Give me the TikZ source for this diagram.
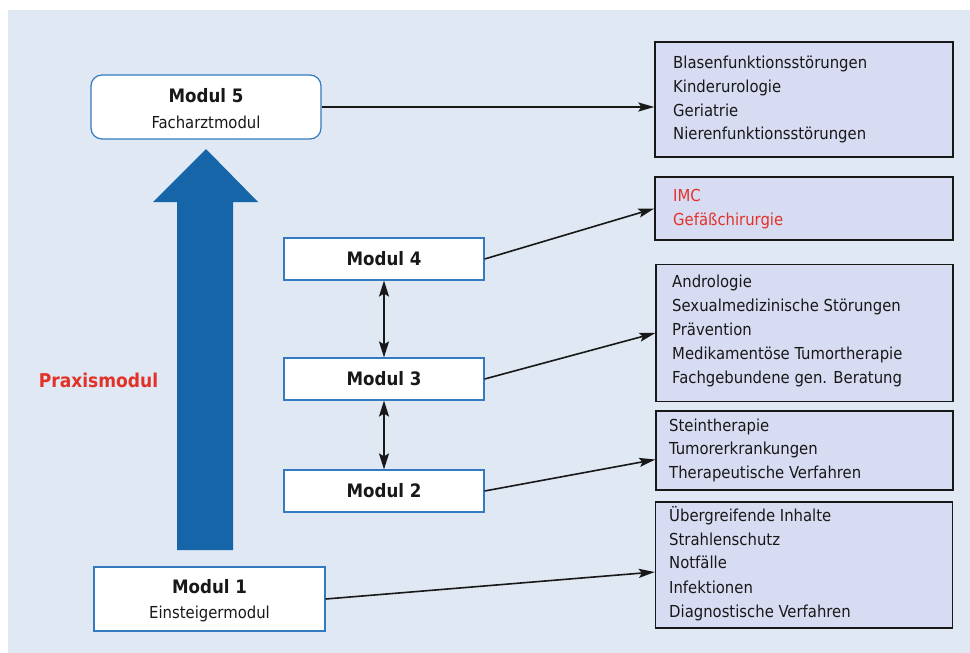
\documentclass[tikz,border=0pt]{standalone}
\usepackage{fontspec}
\setmainfont{DejaVu Sans Condensed}
\usetikzlibrary{arrows.meta,calc}

\definecolor{bgblue}{RGB}{223,232,243}
\definecolor{listfill}{RGB}{216,220,242}
\definecolor{modborder}{RGB}{52,122,192}
\definecolor{bigblue}{RGB}{21,101,168}
\definecolor{alertred}{RGB}{226,50,40}
\definecolor{ink}{RGB}{24,24,24}

\tikzset{
  modbox/.style={draw=modborder, line width=1.2pt, fill=white, inner sep=0pt},
  modtitle/.style={font=\fontsize{18.5}{22}\selectfont\bfseries, text=ink, anchor=base, inner sep=0pt},
  modsub/.style={font=\fontsize{16.5}{20}\selectfont, text=ink, anchor=base, inner sep=0pt},
  listbox/.style={draw=ink, line width=1.4pt, fill=listfill, inner sep=0pt},
  listline/.style={font=\fontsize{16.5}{20}\selectfont, text=ink, anchor=base west, inner sep=0pt},
  link/.style={draw=ink, line width=1.6pt, -{Stealth[length=16pt,width=9pt,inset=3pt]}},
  twoway/.style={draw=ink, line width=1.6pt, {Stealth[length=16pt,width=10pt,inset=3pt]}-{Stealth[length=16pt,width=10pt,inset=3pt]}}
}

\begin{document}
\begin{tikzpicture}[x=1pt, y=-1pt]
  \useasboundingbox (0,0) rectangle (970,653);
  \fill[bgblue] (8,10) rectangle (970,653);

  % upward arrow of the practice module
  \fill[bigblue] (177,550) -- (233,550) -- (233,202) -- (258,202) -- (206,149)
    -- (153,202) -- (177,202) -- cycle;
  \node[font=\fontsize{19}{22}\selectfont\bfseries, text=alertred, anchor=base, inner sep=0pt]
    (praxis) at (98.5,387) {Praxismodul};

  % modules
  \node[modbox, rounded corners=11pt, minimum width=230pt, minimum height=64pt] (m5) at (206,107) {};
  \node[modtitle] (m5t) at (206,102) {Modul 5};
  \node[modsub] (m5s) at (206,128) {Facharztmodul};

  \node[modbox, minimum width=200pt, minimum height=42pt,
        font=\fontsize{18.5}{22}\selectfont\bfseries, text=ink] (m4) at (384,259) {Modul 4};
  \node[modbox, minimum width=200pt, minimum height=42pt,
        font=\fontsize{18.5}{22}\selectfont\bfseries, text=ink] (m3) at (384,379) {Modul 3};
  \node[modbox, minimum width=200pt, minimum height=42pt,
        font=\fontsize{18.5}{22}\selectfont\bfseries, text=ink] (m2) at (384,491) {Modul 2};

  \node[modbox, minimum width=231pt, minimum height=64pt] (m1) at (209.5,599) {};
  \node[modtitle] (m1t) at (209.5,593) {Modul 1};
  \node[modsub] (m1s) at (209.5,618) {Einsteigermodul};

  % content lists
  \node[listbox, minimum width=298pt, minimum height=115pt] (b1) at (804,99.5) {};
  \node[listline] (b1a) at (673,68)  {Blasenfunktionsstörungen};
  \node[listline] (b1b) at (673,92)  {Kinderurologie};
  \node[listline] (b1c) at (673,116) {Geriatrie};
  \node[listline] (b1d) at (673,139) {Nierenfunktionsstörungen};

  \node[listbox, minimum width=298pt, minimum height=63pt] (b2) at (804,208.5) {};
  \node[listline, text=alertred] (b2a) at (673,201) {IMC};
  \node[listline, text=alertred] (b2b) at (673,225) {Gefäßchirurgie};

  \node[listbox, minimum width=297pt, minimum height=137pt] (b3) at (804.5,333) {};
  \node[listline] (b3a) at (672,287) {Andrologie};
  \node[listline] (b3b) at (672,311) {Sexualmedizinische Störungen};
  \node[listline] (b3c) at (672,335) {Prävention};
  \node[listline] (b3d) at (672,359) {Medikamentöse Tumortherapie};
  \node[listline] (b3e) at (672,383) {Fachgebundene gen. Beratung};

  \node[listbox, minimum width=297pt, minimum height=79pt] (b4) at (804.5,450.5) {};
  \node[listline] (b4a) at (669,431) {Steintherapie};
  \node[listline] (b4b) at (669,454) {Tumorerkrankungen};
  \node[listline] (b4c) at (669,478) {Therapeutische Verfahren};

  \node[listbox, minimum width=297pt, minimum height=126pt] (b5) at (804,565) {};
  \node[listline] (b5a) at (669,521) {Übergreifende Inhalte};
  \node[listline] (b5b) at (669,545) {Strahlenschutz};
  \node[listline] (b5c) at (669,568) {Notfälle};
  \node[listline] (b5d) at (669,593) {Infektionen};
  \node[listline] (b5e) at (669,617) {Diagnostische Verfahren};

  % arrow targets on the list boxes
  \coordinate (e1) at (b1.west |- m5.east);
  \coordinate (e4) at ($(b4.west)+(0,9)$);
  \coordinate (e5) at ($(b5.west)+(0,7)$);

  % connectors
  \draw[link] (m5.east) -- (e1);
  \draw[link] (m4.east) -- (b2.west);
  \draw[link] (m3.east) -- (b3.west);
  \draw[link] (m2.east) -- (e4);
  \draw[link] (m1.east) -- (e5);

  \draw[twoway] (m4.south) -- (m3.north);
  \draw[twoway] (m3.south) -- (m2.north);
\end{tikzpicture}
\end{document}
